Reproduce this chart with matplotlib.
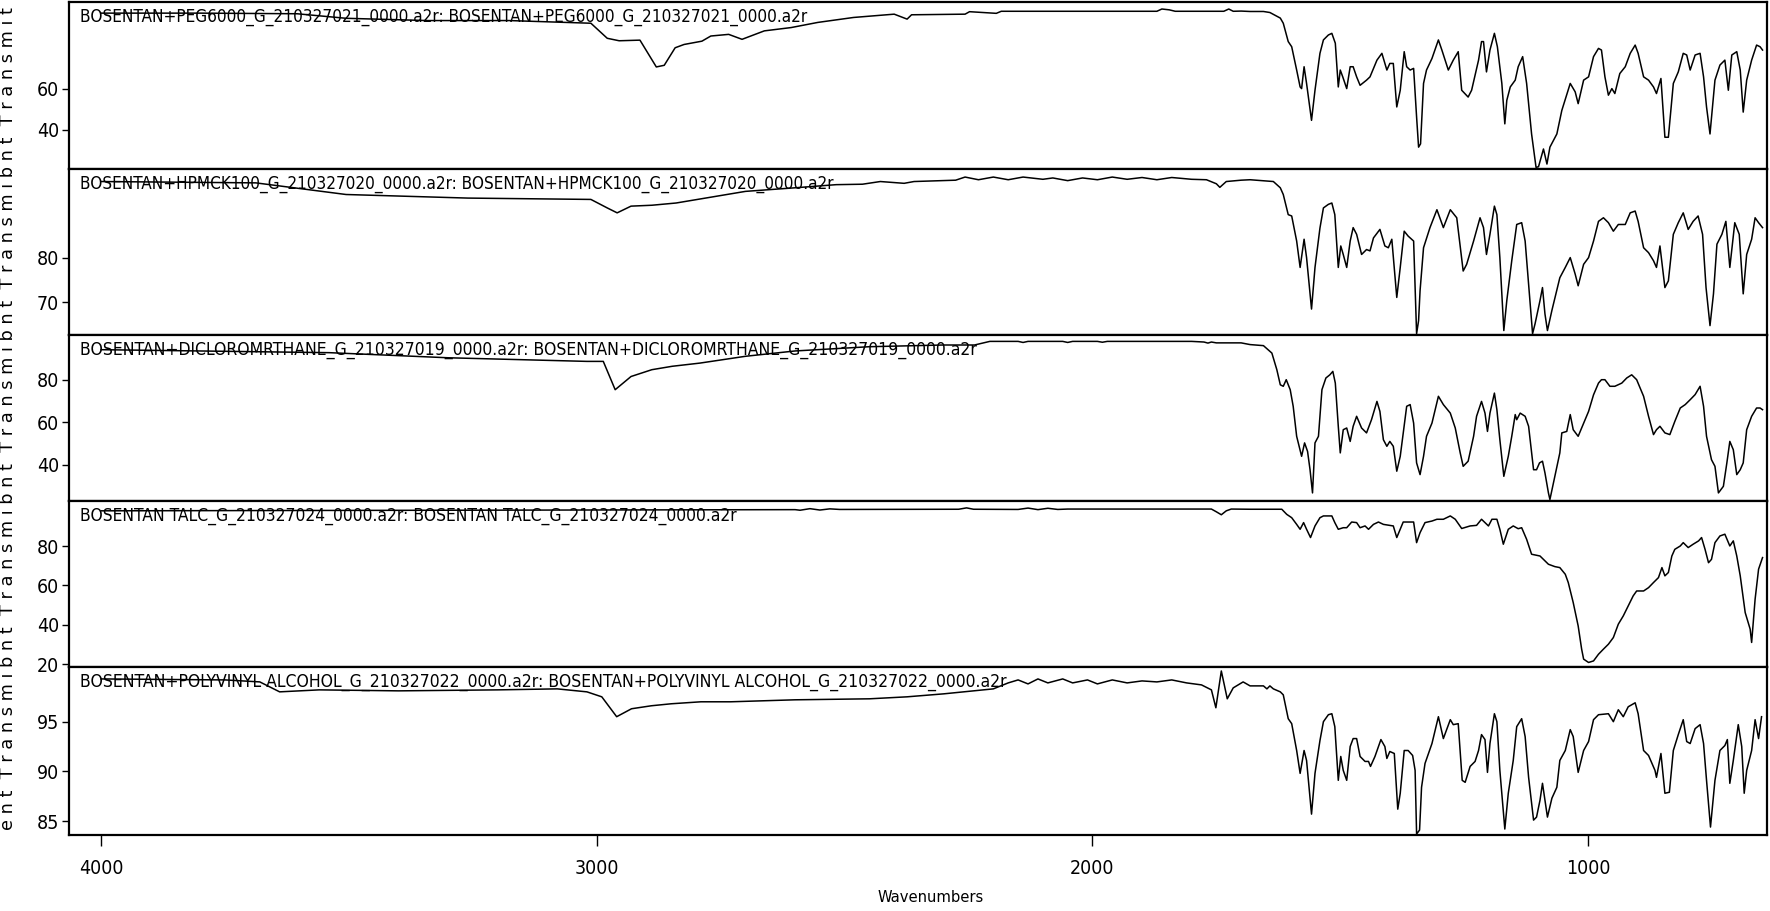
import numpy as np
import matplotlib
matplotlib.use("Agg")
import matplotlib.pyplot as plt
from matplotlib import font_manager

# FTIR spectra, (wavenumber, %T)
peg6000 = [(4000, 96.6), (3800, 96.6), (3605, 96.3), (3506, 94.1), (3342, 93.0), (3177, 93.0), (3012, 91.7),
           (2979, 84.4), (2955, 83.2), (2913, 83.5), (2880, 70.5), (2864, 71.3), (2842, 79.8), (2824, 81.4),
           (2788, 83.0), (2770, 85.5), (2734, 86.3), (2707, 83.9), (2662, 88.0), (2608, 89.6), (2554, 92.1),
           (2482, 94.5), (2400, 96.1), (2374, 93.7), (2365, 95.8), (2257, 96.1), (2248, 97.3), (2194, 96.5),
           (2184, 97.5), (1870, 97.5), (1860, 98.6), (1845, 98.2), (1833, 97.5), (1735, 97.5), (1725, 98.6),
           (1716, 97.5), (1700, 97.6),
           (1682, 97.4), (1655, 97.4), (1642, 96.9), (1621, 94.2), (1615, 91.7), (1605, 82.8), (1598, 80.3),
           (1588, 69.0), (1581, 60.8), (1578, 60.0), (1573, 70.6), (1568, 62.5), (1558, 44.6), (1551, 59.2),
           (1541, 77.1), (1534, 83.6), (1524, 86.0), (1517, 86.8), (1510, 82.0), (1504, 60.8), (1500, 69.0),
           (1495, 65.7), (1487, 60.0), (1480, 70.6), (1474, 70.6), (1467, 65.7), (1460, 61.6), (1447, 64.1),
           (1440, 65.7), (1426, 73.8), (1416, 77.1), (1406, 69.0), (1400, 72.2), (1393, 72.2), (1386, 51.1),
           (1379, 59.2), (1371, 77.9), (1366, 70.6), (1359, 69.0), (1352, 69.8), (1346, 46.2), (1342, 31.6),
           (1338, 33.2), (1332, 62.5), (1326, 69.0), (1315, 74.6), (1302, 83.6), (1295, 78.7), (1282, 69.0),
           (1272, 73.8), (1262, 77.9), (1255, 59.2), (1242, 55.9), (1235, 59.2), (1221, 73.8), (1215, 82.8),
           (1211, 82.8), (1205, 68.1), (1198, 78.7), (1189, 86.8), (1183, 80.3), (1174, 62.5), (1168, 42.9),
           (1164, 54.3), (1157, 60.8), (1147, 64.1), (1141, 70.6), (1132, 75.5), (1124, 62.5), (1114, 38.0),
           (1105, 21.8), (1100, 22.1), (1090, 30.7), (1083, 23.4), (1077, 31.6), (1063, 38.0), (1053, 49.4),
           (1036, 62.5), (1026, 58.4), (1020, 52.7), (1009, 64.1), (999, 65.7), (989, 75.5), (979, 79.5),
           (973, 78.7), (966, 65.7), (959, 56.8), (952, 60.0), (946, 57.6), (936, 67.3), (925, 70.6),
           (915, 77.1), (905, 81.1), (899, 77.1), (888, 65.7), (878, 64.1), (868, 60.8), (862, 57.6),
           (853, 64.9), (845, 36.4), (838, 36.4), (828, 62.5), (818, 68.1), (808, 77.1), (801, 76.3),
           (794, 69.0), (784, 76.3), (774, 77.1), (767, 65.7), (761, 51.1), (754, 38.0), (744, 64.1),
           (734, 71.4), (724, 73.8), (717, 59.2), (710, 76.3), (700, 77.9), (693, 69.0), (687, 48.6),
           (680, 64.1), (670, 73.8), (660, 81.1), (653, 80.3), (648, 78.7)]

hpmck100 = [(4000, 97.0), (3688, 96.7), (3506, 94.1), (3260, 93.3), (3012, 93.0), (2979, 91.1), (2959, 90.0),
            (2931, 91.5), (2889, 91.7), (2840, 92.2), (2700, 94.8), (2600, 95.6), (2517, 96.3), (2464, 96.4),
            (2428, 97.0), (2380, 96.6), (2360, 97.0), (2276, 97.3), (2257, 98.0), (2230, 97.4), (2200, 98.0),
            (2170, 97.4), (2140, 98.0), (2100, 97.5), (2080, 97.8), (2050, 97.2), (2020, 97.8), (1990, 97.4),
            (1960, 98.0), (1930, 97.5), (1900, 97.9), (1870, 97.4), (1840, 97.9), (1800, 97.5), (1770, 97.4),
            (1750, 96.5), (1743, 95.7), (1730, 97.0), (1700, 97.3),
            (1682, 97.4), (1635, 97.0), (1621, 95.6), (1615, 94.1), (1605, 89.6), (1598, 89.3), (1588, 83.7),
            (1581, 77.8), (1573, 84.1), (1568, 80.0), (1558, 68.5), (1551, 77.8), (1541, 86.6), (1534, 91.1),
            (1524, 91.9), (1517, 92.2), (1511, 89.6), (1504, 77.8), (1499, 82.6), (1494, 80.7), (1487, 77.8),
            (1480, 83.7), (1474, 86.7), (1467, 85.2), (1457, 80.7), (1447, 81.8), (1440, 81.5), (1433, 84.4),
            (1420, 86.3), (1410, 82.6), (1403, 82.2), (1396, 84.1), (1386, 71.1), (1379, 77.8), (1371, 85.9),
            (1363, 84.8), (1352, 83.7), (1346, 63.0), (1342, 65.9), (1339, 72.6), (1332, 82.2), (1319, 86.7),
            (1305, 90.7), (1292, 86.7), (1278, 90.7), (1265, 88.9), (1252, 77.0), (1245, 78.5), (1231, 83.7),
            (1218, 88.9), (1211, 86.7), (1205, 80.7), (1198, 85.2), (1189, 91.5), (1184, 89.6), (1178, 80.0),
            (1170, 63.7), (1164, 70.4), (1154, 79.3), (1144, 87.4), (1134, 87.8), (1127, 83.7), (1120, 74.1),
            (1112, 63.0), (1107, 65.2), (1097, 70.4), (1092, 73.3), (1087, 67.4), (1082, 63.7), (1073, 68.2),
            (1057, 75.5), (1046, 77.8), (1036, 80.0), (1026, 76.3), (1020, 73.7), (1009, 78.5), (999, 80.0),
            (989, 83.7), (979, 88.1), (969, 88.9), (959, 87.8), (949, 85.9), (939, 87.4), (925, 87.4),
            (915, 90.0), (905, 90.4), (899, 88.1), (888, 82.2), (878, 81.1), (868, 79.3), (862, 77.8),
            (855, 82.6), (845, 73.3), (838, 74.8), (828, 85.2), (818, 87.8), (808, 90.0), (798, 86.3),
            (788, 88.1), (778, 89.3), (769, 85.2), (762, 73.3), (754, 64.8), (747, 71.9), (740, 83.0),
            (730, 85.2), (722, 88.1), (714, 77.8), (704, 87.8), (695, 85.2), (687, 71.9), (680, 80.7),
            (670, 84.1), (663, 88.9), (656, 87.8), (648, 86.7)]

dcm = [(4000, 94.1), (3800, 93.5), (3540, 92.7), (3300, 90.3), (3020, 88.6), (2987, 88.6), (2963, 75.3),
       (2931, 81.5), (2889, 84.7), (2848, 86.3), (2792, 87.8), (2700, 91.0), (2600, 93.5), (2450, 95.5),
       (2300, 96.3), (2238, 96.3), (2207, 98.0), (2150, 98.0), (2140, 97.5), (2130, 98.0), (2060, 98.0),
       (2050, 97.5), (2040, 98.0), (1990, 98.0), (1980, 97.6), (1970, 98.0), (1800, 98.0), (1775, 97.7),
       (1767, 97.2), (1760, 97.7), (1750, 97.3), (1700, 97.3),
       (1682, 96.5), (1655, 96.0), (1638, 92.5), (1628, 84.7), (1621, 77.6), (1615, 76.9), (1609, 80.0),
       (1601, 75.3), (1595, 67.5), (1588, 53.4), (1578, 44.0), (1572, 50.3), (1566, 46.3), (1561, 37.7),
       (1556, 26.8), (1551, 50.3), (1544, 53.4), (1537, 75.3), (1529, 80.8), (1521, 82.3), (1515, 83.9),
       (1510, 78.4), (1504, 58.1), (1500, 45.6), (1494, 56.5), (1487, 57.3), (1480, 51.0), (1474, 58.1),
       (1467, 62.8), (1457, 57.3), (1447, 55.0), (1437, 61.2), (1426, 69.8), (1420, 65.1), (1413, 51.8),
       (1406, 48.7), (1400, 51.0), (1393, 48.7), (1386, 37.0), (1379, 44.0), (1373, 55.0), (1366, 67.5),
       (1359, 68.3), (1352, 59.6), (1346, 40.9), (1339, 35.4), (1332, 44.0), (1326, 53.4), (1315, 59.6),
       (1302, 72.2), (1292, 68.3), (1278, 64.3), (1268, 57.3), (1258, 45.6), (1252, 39.3), (1242, 41.7),
       (1231, 53.4), (1225, 62.8), (1215, 69.8), (1208, 64.3), (1203, 55.7), (1198, 64.3), (1189, 73.7),
       (1184, 65.9), (1178, 51.8), (1170, 34.6), (1161, 44.0), (1154, 53.4), (1147, 63.6), (1144, 61.2),
       (1137, 64.3), (1127, 62.8), (1120, 58.1), (1110, 37.7), (1104, 37.7), (1098, 40.9), (1092, 41.7),
       (1087, 36.2), (1080, 26.8), (1077, 23.7), (1067, 34.6), (1057, 45.6), (1053, 55.0), (1043, 55.7),
       (1036, 63.6), (1030, 56.5), (1020, 53.4), (1009, 59.6), (999, 65.1), (989, 72.9), (979, 78.4),
       (973, 80.0), (966, 80.0), (956, 76.9), (946, 76.9), (932, 78.4), (922, 80.8), (912, 82.3),
       (902, 80.0), (888, 72.2), (878, 62.8), (868, 54.2), (862, 56.5), (855, 58.1), (845, 55.0),
       (835, 54.2), (825, 60.4), (814, 66.7), (804, 68.3), (794, 70.6), (784, 73.0), (774, 76.9),
       (767, 67.5), (761, 53.4), (751, 42.4), (744, 39.3), (737, 26.8), (727, 29.9), (720, 40.9),
       (714, 51.0), (707, 47.1), (700, 35.4), (693, 37.7), (687, 40.9), (680, 56.5), (670, 62.8),
       (660, 66.7), (653, 66.7), (648, 65.9)]

talc = [(4000, 98.0), (3300, 98.3), (2600, 98.6), (2590, 98.3), (2570, 99.1), (2550, 98.4), (2530, 99.0),
        (2510, 98.7), (2300, 98.8), (2270, 98.8), (2254, 99.5), (2240, 98.8), (2150, 98.7), (2130, 99.4),
        (2110, 98.6), (2090, 99.3), (2070, 98.7), (2050, 98.9), (1760, 98.9), (1750, 97.5), (1740, 96.0),
        (1730, 98.0), (1720, 98.9), (1690, 98.8),
        (1682, 98.8), (1618, 98.8), (1608, 96.2), (1598, 94.5), (1588, 91.1), (1581, 88.6), (1574, 92.0),
        (1568, 88.6), (1560, 84.4), (1551, 90.3), (1541, 94.5), (1534, 95.4), (1517, 95.4), (1511, 92.0),
        (1504, 88.6), (1494, 89.4), (1487, 89.4), (1477, 92.3), (1467, 92.0), (1460, 89.4), (1450, 90.3),
        (1443, 88.6), (1433, 91.1), (1423, 92.3), (1413, 91.1), (1393, 90.3), (1386, 84.4), (1379, 88.6),
        (1373, 92.3), (1352, 92.3), (1346, 81.8), (1339, 86.9), (1329, 92.0), (1315, 92.8), (1305, 93.7),
        (1292, 93.7), (1278, 95.4), (1268, 93.7), (1255, 89.0), (1238, 90.3), (1225, 90.6), (1215, 93.7),
        (1208, 92.0), (1201, 90.3), (1194, 93.7), (1184, 93.7), (1178, 88.6), (1171, 81.0), (1161, 88.6),
        (1151, 90.3), (1141, 88.9), (1134, 89.4), (1124, 83.5), (1114, 75.9), (1097, 75.0), (1090, 73.3),
        (1080, 70.8), (1067, 69.6), (1057, 69.1), (1046, 65.7), (1040, 61.5), (1030, 51.3), (1020, 39.4),
        (1013, 27.6), (1009, 22.5), (999, 20.8), (989, 21.6), (979, 25.0), (969, 27.6), (959, 30.1),
        (949, 33.5), (939, 40.3), (929, 44.5), (919, 49.6), (909, 54.7), (902, 57.2), (888, 57.2),
        (878, 58.9), (868, 61.5), (858, 64.0), (851, 69.1), (845, 64.9), (838, 66.6), (831, 75.0),
        (825, 78.4), (814, 80.1), (808, 81.8), (798, 79.3), (788, 81.0), (777, 82.7), (771, 84.4),
        (764, 78.4), (757, 71.6), (751, 73.3), (744, 81.8), (734, 85.2), (724, 86.1), (714, 80.1),
        (707, 82.7), (700, 75.0), (693, 64.9), (683, 46.2), (673, 37.8), (670, 31.0), (663, 53.0),
        (656, 68.3), (648, 74.2)]

pva = [(4000, 99.3), (3750, 99.2), (3680, 99.0), (3640, 98.0), (3560, 98.2), (3400, 98.1), (3200, 98.2),
       (3080, 98.3), (3020, 98.0), (2990, 97.5), (2960, 95.5), (2930, 96.3), (2890, 96.6), (2850, 96.8),
       (2790, 97.0), (2730, 97.0), (2600, 97.2), (2450, 97.3), (2374, 97.5), (2300, 97.8), (2200, 98.3),
       (2170, 98.9), (2150, 99.2), (2130, 98.8), (2110, 99.3), (2090, 98.9), (2060, 99.3), (2040, 98.9),
       (2010, 99.2), (1990, 98.8), (1960, 99.2), (1930, 98.9), (1900, 99.1), (1870, 99.0), (1840, 99.2),
       (1810, 98.9), (1780, 98.7), (1760, 98.2), (1751, 96.4), (1740, 100.1), (1728, 97.3), (1716, 98.4),
       (1696, 99.0),
       (1682, 98.6), (1655, 98.6), (1648, 98.3), (1642, 98.6), (1635, 98.3), (1621, 98.0), (1615, 97.7),
       (1605, 95.3), (1598, 94.8), (1588, 92.1), (1581, 89.8), (1573, 92.1), (1568, 91.1), (1558, 85.7),
       (1551, 89.8), (1541, 93.1), (1534, 95.0), (1524, 95.7), (1517, 95.8), (1511, 94.5), (1504, 89.1),
       (1499, 91.5), (1494, 90.1), (1487, 89.1), (1480, 92.5), (1474, 93.3), (1467, 93.3), (1460, 91.5),
       (1450, 91.0), (1443, 91.0), (1439, 90.5), (1430, 91.5), (1418, 93.2), (1410, 92.5), (1406, 91.3),
       (1400, 92.0), (1391, 91.8), (1384, 86.2), (1379, 87.8), (1371, 92.1), (1363, 92.1), (1354, 91.6),
       (1349, 90.1), (1346, 83.7), (1340, 84.1), (1336, 88.4), (1329, 90.8), (1315, 92.8), (1302, 95.5),
       (1292, 93.3), (1278, 95.2), (1272, 94.7), (1262, 94.8), (1254, 89.1), (1248, 88.9), (1238, 90.5),
       (1228, 91.0), (1221, 92.1), (1215, 93.7), (1208, 93.2), (1203, 89.9), (1198, 92.8), (1189, 95.8),
       (1184, 95.0), (1178, 90.1), (1168, 84.2), (1161, 87.8), (1151, 91.1), (1144, 94.5), (1134, 95.3),
       (1127, 93.5), (1120, 89.4), (1110, 85.1), (1104, 85.4), (1097, 87.1), (1092, 88.8), (1087, 87.1),
       (1082, 85.4), (1073, 87.3), (1063, 88.4), (1057, 91.1), (1046, 92.1), (1036, 94.2), (1030, 93.5),
       (1020, 89.9), (1009, 92.1), (999, 93.0), (989, 95.2), (979, 95.7), (959, 95.8), (949, 95.0),
       (939, 96.2), (929, 95.5), (919, 96.5), (905, 96.9), (899, 95.8), (888, 92.1), (878, 91.6),
       (865, 90.1), (862, 89.4), (853, 91.8), (845, 87.8), (836, 87.9), (828, 92.1), (818, 93.7),
       (808, 95.2), (801, 93.0), (794, 92.8), (784, 94.3), (774, 94.7), (767, 92.8), (761, 89.1),
       (753, 84.4), (744, 89.1), (734, 92.1), (724, 92.6), (719, 93.2), (714, 88.8), (707, 91.1),
       (697, 94.7), (690, 92.5), (685, 87.8), (680, 90.1), (670, 92.1), (663, 95.2), (656, 93.3),
       (650, 95.5)]

spectra = [peg6000, hpmck100, dcm, talc, pva]
titles = [
    "BOSENTAN+PEG6000_G_210327021_0000.a2r: BOSENTAN+PEG6000_G_210327021_0000.a2r",
    "BOSENTAN+HPMCK100_G_210327020_0000.a2r: BOSENTAN+HPMCK100_G_210327020_0000.a2r",
    "BOSENTAN+DICLOROMRTHANE_G_210327019_0000.a2r: BOSENTAN+DICLOROMRTHANE_G_210327019_0000.a2r",
    "BOSENTAN TALC_G_210327024_0000.a2r: BOSENTAN TALC_G_210327024_0000.a2r",
    "BOSENTAN+POLYVINYL ALCOHOL_G_210327022_0000.a2r: BOSENTAN+POLYVINYL ALCOHOL_G_210327022_0000.a2r",
]
title_px = [726, 754, 897, 656, 928]   # rendered width of each title in the reference
yticks = [[40, 60], [70, 80], [40, 60, 80], [20, 40, 60, 80], [85, 90, 95]]
ylims = [(21, 102), (62.7, 99.8), (23, 101), (18.5, 103), (83.6, 100.5)]
xticks = [4000, 3000, 2000, 1000]
xlim = (4065, 639)

names = {f.name for f in font_manager.fontManager.ttflist}
narrow = 'Liberation Sans Narrow' if 'Liberation Sans Narrow' in names else 'DejaVu Sans'
stretch = 'normal' if narrow != 'DejaVu Sans' else 'condensed'

W, H = 1770, 911
fig = plt.figure(figsize=(W / 100, H / 100), dpi=100)
renderer = fig.canvas.get_renderer()


def fit_width(txt, target):
    # shrink/grow a text so it spans about the same pixels as in the reference
    w = txt.get_window_extent(renderer).width
    txt.set_fontsize(txt.get_fontsize() * target / w)


left, right = 69, 1767
edges = [2, 169, 335, 501, 667, 835]   # panel borders in px from top

for i in range(5):
    top, bot = edges[i], edges[i + 1]
    ax = fig.add_axes([left / W, 1 - bot / H, (right - left) / W, (bot - top) / H])
    wn, tr = np.array(spectra[i]).T
    ax.plot(wn, tr, color='black', lw=1.1, zorder=2)
    ax.set_xlim(*xlim)
    ax.set_ylim(*ylims[i])
    ax.set_yticks(yticks[i])
    ax.tick_params(axis='y', direction='out', length=5, width=1, pad=2,
                   labelsize=14)
    for lab in ax.get_yticklabels():
        lab.set_family(narrow)
        lab.set_stretch(stretch)
    for s in ax.spines.values():
        s.set_linewidth(1.6)
        s.set_color('black')
    t = ax.annotate(titles[i], xy=(0, 1), xycoords='axes fraction', xytext=(11, -6),
                    textcoords='offset pixels', ha='left', va='top', fontsize=12,
                    family=narrow, fontstretch=stretch, zorder=3)
    fit_width(t, title_px[i])
    if i < 4:
        ax.set_xticks([])
    else:
        ax.set_xticks(xticks)
        ax.tick_params(axis='x', direction='out', length=8, width=1, pad=9,
                       labelsize=14)
        for lab in ax.get_xticklabels():
            lab.set_family(narrow)
            lab.set_stretch(stretch)

xl = fig.text(931 / W, 1 - 898 / H, "Wavenumbers", ha='center', va='center',
              fontsize=13, family=narrow, fontstretch=stretch)
fit_width(xl, 106)

# the y label in the reference is several overlapping "%Transmittance" labels
words = ["ent"] + ["Transmibnt"] * 4 + ["Transmit"]
ylab = "  ".join(" ".join(w) for w in words)
yl = fig.text(8.5 / W, 1 - 830 / H, ylab, rotation=90, ha='center', va='bottom',
              fontsize=13.5, family='DejaVu Sans')
h = yl.get_window_extent(renderer).height
yl.set_fontsize(13.5 * 826 / h)

fig.savefig("out.png", dpi=100)
